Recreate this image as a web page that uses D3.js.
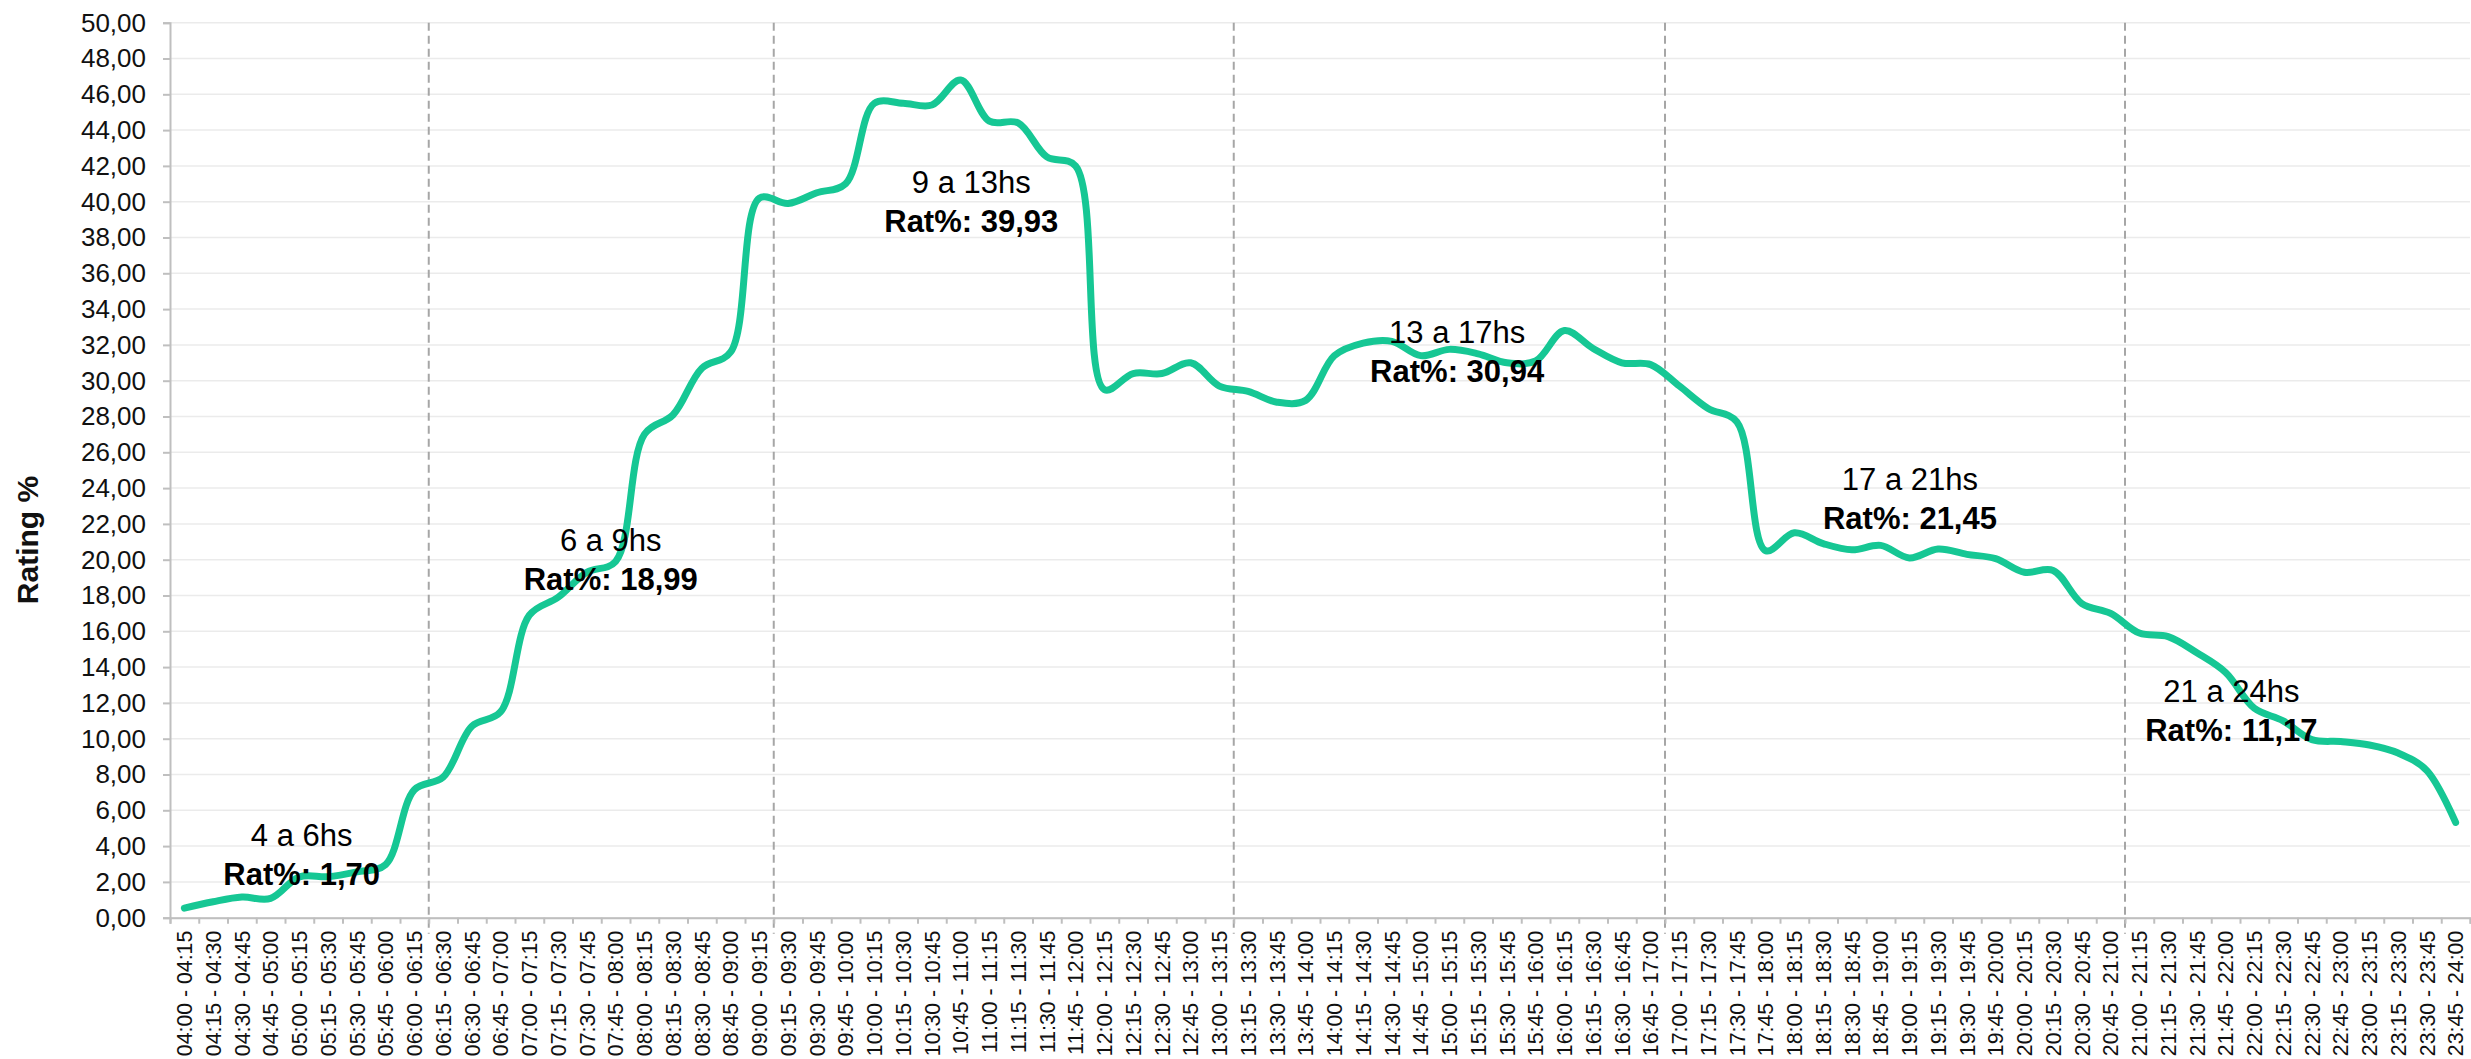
<!DOCTYPE html>
<html>
<head>
<meta charset="utf-8">
<script src="https://cdn.jsdelivr.net/npm/d3@7"></script>
<style>
  body { margin: 0; background: #fff; }
  svg { display: block; font-family: "Liberation Sans", Arial, sans-serif; }
</style>
</head>
<body>
<svg id="chart"></svg>
<script>
// franjas de 15 minutos
const slots = [
    "04:00 - 04:15", "04:15 - 04:30", "04:30 - 04:45", "04:45 - 05:00",
    "05:00 - 05:15", "05:15 - 05:30", "05:30 - 05:45", "05:45 - 06:00",
    "06:00 - 06:15", "06:15 - 06:30", "06:30 - 06:45", "06:45 - 07:00",
    "07:00 - 07:15", "07:15 - 07:30", "07:30 - 07:45", "07:45 - 08:00",
    "08:00 - 08:15", "08:15 - 08:30", "08:30 - 08:45", "08:45 - 09:00",
    "09:00 - 09:15", "09:15 - 09:30", "09:30 - 09:45", "09:45 - 10:00",
    "10:00 - 10:15", "10:15 - 10:30", "10:30 - 10:45", "10:45 - 11:00",
    "11:00 - 11:15", "11:15 - 11:30", "11:30 - 11:45", "11:45 - 12:00",
    "12:00 - 12:15", "12:15 - 12:30", "12:30 - 12:45", "12:45 - 13:00",
    "13:00 - 13:15", "13:15 - 13:30", "13:30 - 13:45", "13:45 - 14:00",
    "14:00 - 14:15", "14:15 - 14:30", "14:30 - 14:45", "14:45 - 15:00",
    "15:00 - 15:15", "15:15 - 15:30", "15:30 - 15:45", "15:45 - 16:00",
    "16:00 - 16:15", "16:15 - 16:30", "16:30 - 16:45", "16:45 - 17:00",
    "17:00 - 17:15", "17:15 - 17:30", "17:30 - 17:45", "17:45 - 18:00",
    "18:00 - 18:15", "18:15 - 18:30", "18:30 - 18:45", "18:45 - 19:00",
    "19:00 - 19:15", "19:15 - 19:30", "19:30 - 19:45", "19:45 - 20:00",
    "20:00 - 20:15", "20:15 - 20:30", "20:30 - 20:45", "20:45 - 21:00",
    "21:00 - 21:15", "21:15 - 21:30", "21:30 - 21:45", "21:45 - 22:00",
    "22:00 - 22:15", "22:15 - 22:30", "22:30 - 22:45", "22:45 - 23:00",
    "23:00 - 23:15", "23:15 - 23:30", "23:30 - 23:45", "23:45 - 24:00"
];

const rating = [
    0.53, 0.89, 1.15, 1.08, 2.28, 2.29, 2.56, 2.97,
    7.15, 7.85, 10.7, 11.5, 16.9, 17.9, 19.3, 19.9,
    27.0, 28.1, 30.7, 31.6, 40.2, 39.9, 40.5, 41.0,
    45.5, 45.5, 45.4, 46.8, 44.5, 44.4, 42.5, 42.0,
    29.5, 30.4, 30.4, 31.0, 29.7, 29.4, 28.8, 28.9,
    31.4, 32.1, 32.2, 31.4, 31.75, 31.5, 31.0, 31.1,
    32.8, 31.8, 31.0, 30.9, 29.7, 28.45, 27.7, 20.5,
    21.5, 20.9, 20.55, 20.8, 20.1, 20.6, 20.3, 20.06,
    19.3, 19.4, 17.55, 17.0, 15.9, 15.7, 14.8, 13.7,
    11.7, 11.0, 9.95, 9.84, 9.65, 9.2, 8.22, 5.32
];

const yTicks = [0, 2, 4, 6, 8, 10, 12, 14, 16, 18, 20, 22, 24, 26, 28, 30,
    32, 34, 36, 38, 40, 42, 44, 46, 48, 50];

// lineas punteadas: despues de estas franjas
const dividersAfter = ["06:00 - 06:15", "09:00 - 09:15", "13:00 - 13:15",
    "16:45 - 17:00", "20:45 - 21:00"];

// etiquetas de cada bloque horario
const blockNames = ["4 a 6hs", "6 a 9hs", "9 a 13hs", "13 a 17hs", "17 a 21hs", "21 a 24hs"];
const blockRatings = ["1,70", "18,99", "39,93", "30,94", "21,45", "11,17"];
const blockAt = [4.08, 14.83, 27.37, 44.27, 60.02, 71.2];   // posicion en franjas
const blockLevel = [3.98, 20.51, 40.49, 32.09, 23.89, 12.07]; // altura en rating

const width = 2471,
    height = 1059,
    plotLeft = 170,
    plotRight = 2470,
    plotTop = 22.7,
    plotBottom = 917.7;

const svg = d3.select("#chart").attr("width", width).attr("height", height);

const locale = d3.formatLocale({ decimal: ",", thousands: ".", grouping: [3], currency: ["$", ""] });
const fmt = locale.format(".2f");

const xScale = d3.scaleBand().domain(slots).range([plotLeft, plotRight]);
const xEdges = d3.scaleLinear().domain([0, slots.length]).range([plotLeft, plotRight]);
const yScale = d3.scaleLinear().domain([0, 50]).range([plotBottom, plotTop]);
const xPos = (i) => xScale(slots[0]) + (i + 0.5) * xScale.bandwidth();

// grilla
svg.append("g")
    .selectAll("line")
    .data(yTicks)
    .enter()
    .append("line")
    .attr("x1", plotLeft)
    .attr("x2", plotRight)
    .attr("y1", (d) => yScale(d))
    .attr("y2", (d) => yScale(d))
    .attr("stroke", "#ebebeb")
    .attr("stroke-width", 1.5);

// separadores
svg.append("g")
    .selectAll("line")
    .data(dividersAfter)
    .enter()
    .append("line")
    .attr("x1", (d) => xScale(d) + xScale.bandwidth())
    .attr("x2", (d) => xScale(d) + xScale.bandwidth())
    .attr("y1", plotTop)
    .attr("y2", plotBottom + 16)
    .attr("stroke", "#a6a6a6")
    .attr("stroke-width", 2)
    .attr("stroke-dasharray", "8,5");

// eje y
const yAxis = d3.axisLeft(yScale).tickValues(yTicks).tickFormat(fmt).tickSize(7).tickPadding(17);
const gy = svg.append("g")
    .attr("id", "y-axis")
    .attr("transform", `translate(${plotLeft}, 0)`)
    .call(yAxis);
gy.select(".domain").attr("stroke", "#bfbfbf").attr("stroke-width", 2);
gy.selectAll(".tick line").attr("stroke", "#bfbfbf").attr("stroke-width", 2);
gy.selectAll("text").attr("font-size", 26).attr("fill", "#111").attr("font-family", "Liberation Sans, Arial");

// eje x: marcas entre franjas
const xTicksAxis = d3.axisBottom(xEdges).tickValues(d3.range(slots.length + 1)).tickSize(6).tickFormat("");
const gxt = svg.append("g")
    .attr("transform", `translate(0, ${plotBottom})`)
    .call(xTicksAxis);
gxt.select(".domain").attr("stroke", "#bfbfbf").attr("stroke-width", 2);
gxt.selectAll(".tick line").attr("stroke", "#bfbfbf").attr("stroke-width", 2);

// eje x: etiquetas
const xAxis = d3.axisBottom(xScale).tickSize(0);
const gx = svg.append("g")
    .attr("id", "x-axis")
    .attr("transform", `translate(0, ${plotBottom})`)
    .call(xAxis);
gx.select(".domain").remove();
gx.selectAll("text")
    .attr("transform", "rotate(-90)")
    .attr("x", -13)
    .attr("y", 0)
    .attr("dy", "0.36em")
    .attr("font-size", 21.3)
    .attr("fill", "#111")
    .attr("font-family", "Liberation Sans, Arial")
    .style("text-anchor", "end");

// titulo eje y
svg.append("text")
    .attr("transform", `translate(38, 540) rotate(-90)`)
    .attr("text-anchor", "middle")
    .attr("font-size", 30)
    .attr("font-weight", "bold")
    .attr("fill", "#111")
    .text("Rating %");

// curva
const line = d3.line()
    .x((d, i) => xPos(i))
    .y((d) => yScale(d))
    .curve(d3.curveCatmullRom.alpha(0.5));

svg.append("path")
    .datum(rating)
    .attr("d", line)
    .attr("fill", "none")
    .attr("stroke", "#16c794")
    .attr("stroke-width", 7)
    .attr("stroke-linecap", "round")
    .attr("stroke-linejoin", "round");

// etiquetas de bloque
const labels = svg.append("g").selectAll("g")
    .data(blockNames)
    .enter()
    .append("g")
    .attr("transform", (d, i) => `translate(${xPos(blockAt[i])}, ${yScale(blockLevel[i])})`);

labels.append("text")
    .attr("text-anchor", "middle")
    .attr("font-size", 31)
    .attr("fill", "#000")
    .text((d) => d);

labels.append("text")
    .attr("text-anchor", "middle")
    .attr("y", 39)
    .attr("font-size", 31)
    .attr("font-weight", "bold")
    .attr("fill", "#000")
    .text((d, i) => "Rat%: " + blockRatings[i]);
</script>
</body>
</html>
